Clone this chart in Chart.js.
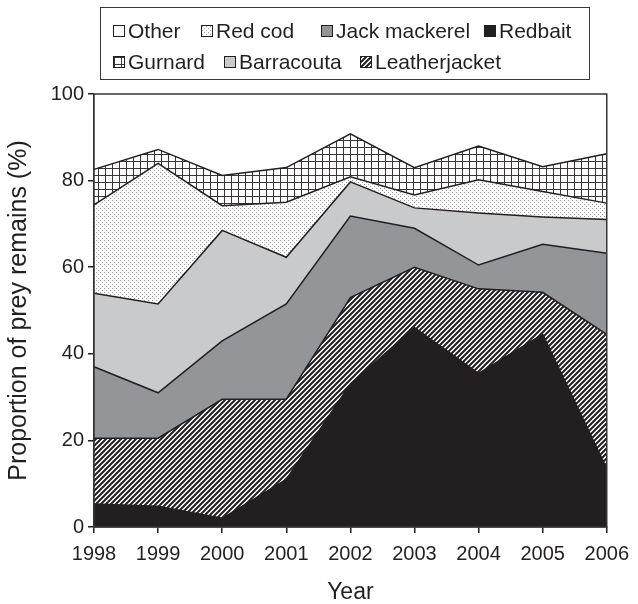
<!DOCTYPE html>
<html>
<head>
<meta charset="utf-8">
<script src="https://cdn.jsdelivr.net/npm/chart.js@4/dist/chart.umd.min.js"></script>
<style>
  body { margin: 0; background: #fff; font-family: "Liberation Sans", Arial, sans-serif; }
  #wrap { position: relative; width: 638px; height: 604px; }
  #legend {
    position: absolute; left: 100px; top: 7px; width: 490px; height: 73px;
    border: 1.5px solid #3a3637; box-sizing: border-box;
  }
  .item { position: absolute; display: flex; align-items: center; font-size: 21px; color: #231f20; white-space: nowrap; }
  .item canvas { border: 1px solid #231f20; margin-right: 3px; }
</style>
</head>
<body>
<div id="wrap">
  <canvas id="myChart" width="638" height="604"></canvas>
  <div id="legend"></div>
</div>
<script>
// data (stacked, bottom to top)
var years = ["1998", "1999", "2000", "2001", "2002", "2003", "2004", "2005", "2006"];
var redbait       = [5.3, 4.8, 2.0, 11.0, 33.0, 46.0, 35.5, 44.5, 13.5];
var leatherjacket = [15.2, 15.7, 27.5, 18.5, 20.0, 14.0, 19.5, 9.7, 31.0];
var jackMackerel  = [16.5, 10.5, 13.5, 22.0, 18.8, 9.0, 5.5, 11.1, 18.7];
var barracouta    = [17.0, 20.5, 25.5, 10.8, 7.9, 4.7, 12.0, 6.3, 7.8];
var redCod        = [20.4, 32.5, 5.7, 12.7, 1.2, 3.0, 7.7, 5.9, 3.8];
var gurnard       = [8.2, 3.2, 7.0, 8.0, 9.9, 6.3, 7.8, 5.7, 11.4];
var other         = [17.4, 12.8, 18.8, 17.0, 9.2, 17.0, 12.0, 16.8, 13.8];
var yTicks = [0, 20, 40, 60, 80, 100];

var ink = "#231f20";

function makePattern(type) {
    var c = document.createElement("canvas");
    var ctx = c.getContext("2d");
    if (type === "hatch") {
        var s = 5;
        c.width = s; c.height = s;
        ctx.fillStyle = "#fff";
        ctx.fillRect(0, 0, s, s);
        ctx.strokeStyle = ink;
        ctx.lineWidth = 2;
        ctx.beginPath();
        ctx.moveTo(-1, s + 1); ctx.lineTo(s + 1, -1);
        ctx.moveTo(-1, 1); ctx.lineTo(1, -1);
        ctx.moveTo(s - 1, s + 1); ctx.lineTo(s + 1, s - 1);
        ctx.stroke();
    } else if (type === "grid") {
        c.width = 7; c.height = 7;
        ctx.fillStyle = "#fff";
        ctx.fillRect(0, 0, 7, 7);
        ctx.fillStyle = "#3a3637";
        ctx.fillRect(0, 0, 7, 1);
        ctx.fillRect(0, 0, 1, 7);
    } else if (type === "dots") {
        c.width = 4; c.height = 4;
        ctx.fillStyle = "#fff";
        ctx.fillRect(0, 0, 4, 4);
        ctx.fillStyle = "#999";
        ctx.fillRect(0, 0, 1, 1);
        ctx.fillRect(2, 2, 1, 1);
    }
    return ctx.createPattern(c, "repeat");
}

var fills = {
    "Redbait": ink,
    "Leatherjacket": makePattern("hatch"),
    "Jack mackerel": "#939598",
    "Barracouta": "#c9cacc",
    "Red cod": makePattern("dots"),
    "Gurnard": makePattern("grid"),
    "Other": "#ffffff"
};

function layer(label, values, first) {
    return {
        label: label,
        data: values,
        backgroundColor: fills[label],
        borderColor: label === "Other" ? "rgba(0,0,0,0)" : ink,
        borderWidth: label === "Other" ? 0 : 1.5,
        fill: first ? "origin" : "-1",
        pointRadius: 0,
        tension: 0
    };
}

var frame = {
    id: "frame",
    afterDraw: function (chart) {
        var a = chart.chartArea, ctx = chart.ctx;
        ctx.save();
        ctx.strokeStyle = "#3a3637";
        ctx.lineWidth = 1.5;
        ctx.strokeRect(a.left, a.top, a.right - a.left, a.bottom - a.top);
        ctx.restore();
    }
};

var ctx = document.getElementById("myChart").getContext("2d");
var myChart = new Chart(ctx, {
    type: "line",
    data: {
        labels: years,
        datasets: [
            layer("Redbait", redbait, true),
            layer("Leatherjacket", leatherjacket),
            layer("Jack mackerel", jackMackerel),
            layer("Barracouta", barracouta),
            layer("Red cod", redCod),
            layer("Gurnard", gurnard),
            layer("Other", other)
        ]
    },
    options: {
        responsive: false,
        animation: false,
        layout: { padding: { top: 94, right: 25, left: 0, bottom: 0 } },
        plugins: { legend: { display: false }, tooltip: { enabled: false } },
        scales: {
            x: {
                offset: false,
                grid: { display: true, drawOnChartArea: false, drawTicks: true, tickLength: 6, color: ink, lineWidth: 1.5 },
                border: { color: ink, width: 1.5 },
                ticks: { color: ink, font: { size: 20, family: "Liberation Sans" }, padding: 9, maxRotation: 0 },
                title: { display: true, text: "Year", color: ink, font: { size: 23, family: "Liberation Sans", lineHeight: 1 }, padding: { top: 0, bottom: 0 } },
                afterFit: function (scale) { scale.height = 77; }
            },
            y: {
                stacked: true,
                min: 0,
                max: 100,
                afterBuildTicks: function (scale) {
                    scale.ticks = yTicks.map(function (v) { return { value: v }; });
                },
                grid: { display: true, drawOnChartArea: false, drawTicks: true, tickLength: 6, color: ink, lineWidth: 1.5 },
                border: { color: ink, width: 1.5 },
                ticks: { color: ink, font: { size: 20, family: "Liberation Sans" }, padding: 4 },
                title: { display: true, text: "Proportion of prey remains (%)", color: ink, font: { size: 25, family: "Liberation Sans", lineHeight: 1.2 }, padding: { top: 4, bottom: 0 } },
                afterFit: function (scale) { scale.width = 94; }
            }
        }
    },
    plugins: [frame]
});

// legend, two rows like the original
var legendRows = [
    [["Other", 12], ["Red cod", 100], ["Jack mackerel", 220], ["Redbait", 383]],
    [["Gurnard", 12], ["Barracouta", 123], ["Leatherjacket", 259]]
];
var legendEl = document.getElementById("legend");
legendRows.forEach(function (row, r) {
    row.forEach(function (entry) {
        var div = document.createElement("div");
        div.className = "item";
        div.style.left = entry[1] + "px";
        div.style.top = (r === 0 ? 11 : 42) + "px";
        var sw = document.createElement("canvas");
        sw.width = 10; sw.height = 10;
        var sctx = sw.getContext("2d");
        sctx.fillStyle = fills[entry[0]];
        sctx.fillRect(0, 0, 10, 10);
        div.appendChild(sw);
        var span = document.createElement("span");
        span.textContent = entry[0];
        div.appendChild(span);
        legendEl.appendChild(div);
    });
});
</script>
</body>
</html>
